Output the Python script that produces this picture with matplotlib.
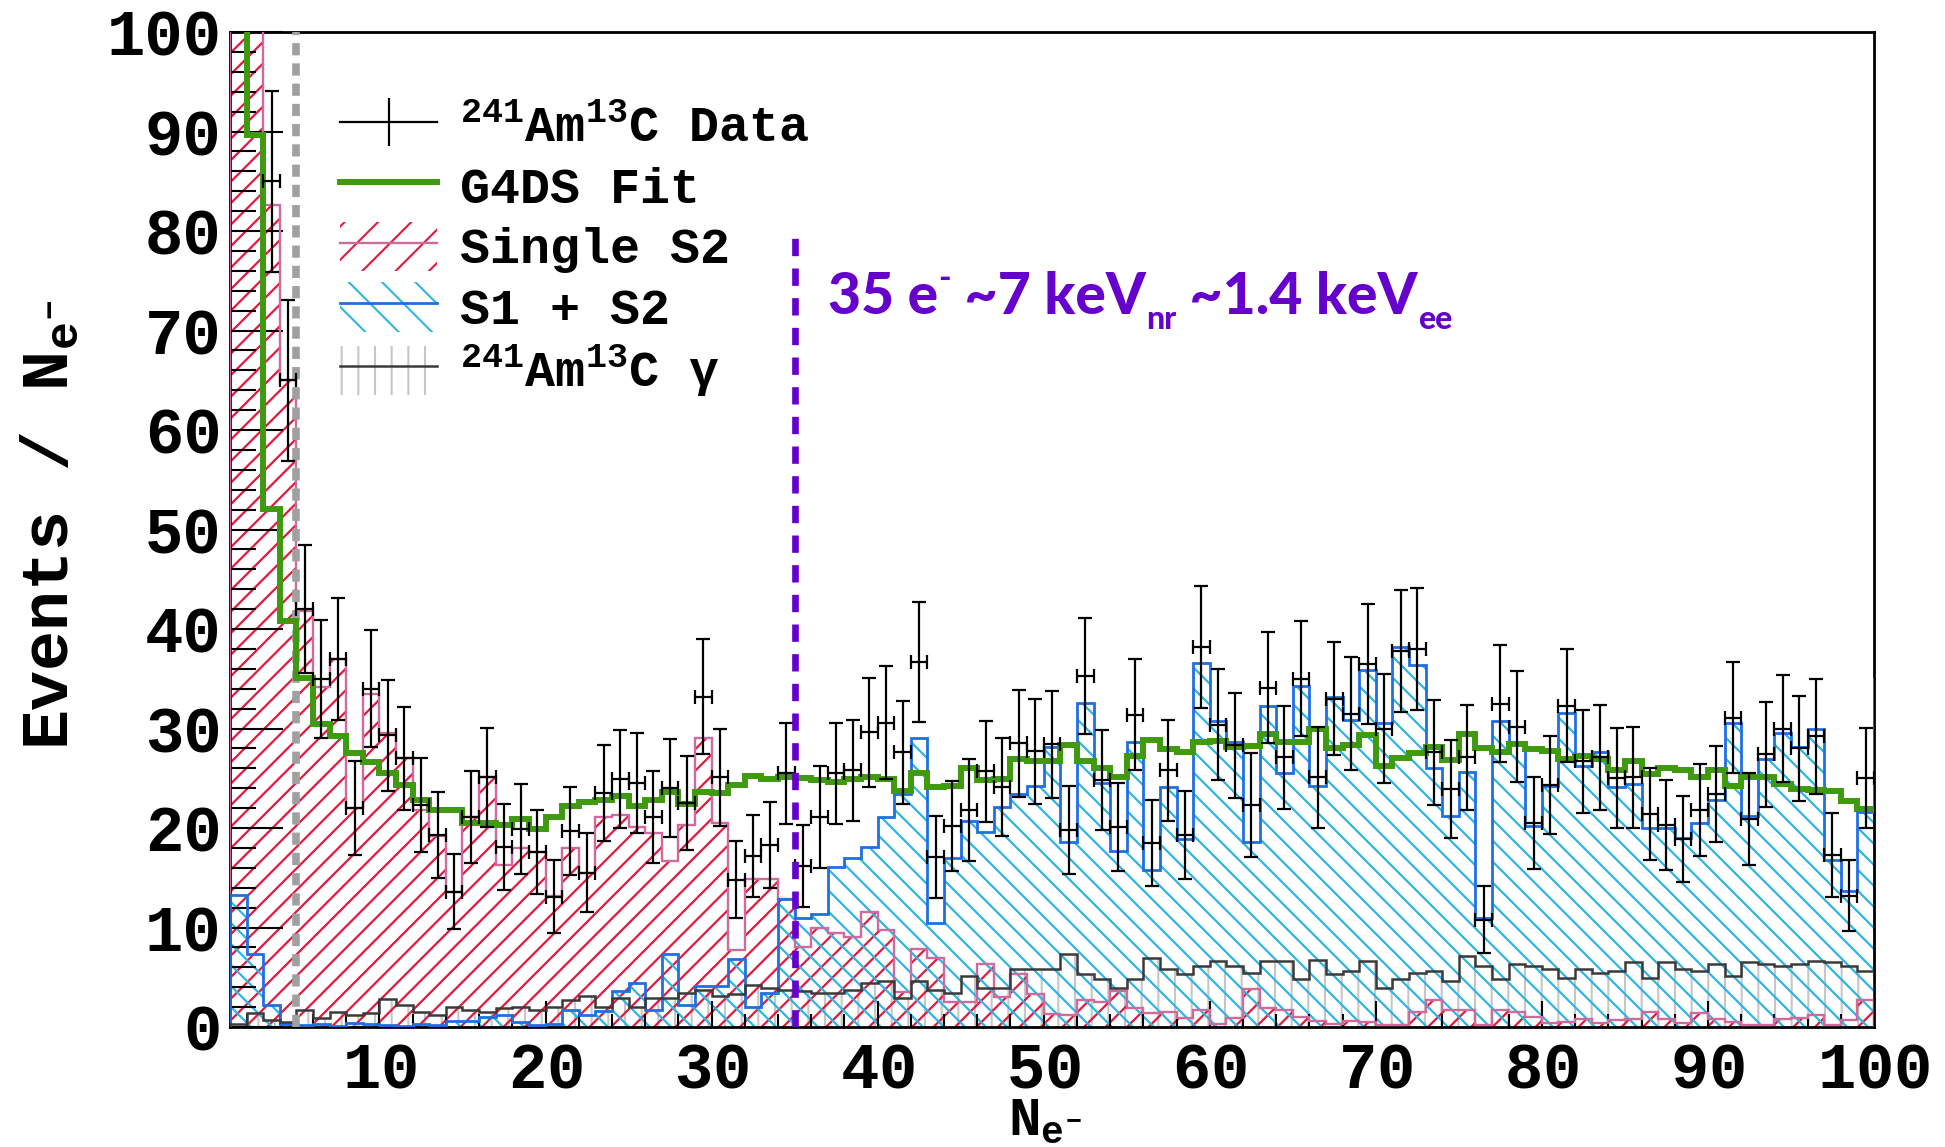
import numpy as np
import matplotlib
matplotlib.use("Agg")
import matplotlib.pyplot as plt
from matplotlib.lines import Line2D
from matplotlib.patches import Patch
from matplotlib.collections import LineCollection
from matplotlib.ticker import MultipleLocator
from matplotlib import transforms

plt.rcParams['mathtext.fontset'] = 'custom'
plt.rcParams['mathtext.rm'] = 'Liberation Mono:bold'
plt.rcParams['mathtext.it'] = 'Liberation Mono:bold'
plt.rcParams['mathtext.bf'] = 'Liberation Mono:bold'
plt.rcParams['hatch.linewidth'] = 1.5

# ---- binning: one bin per extracted electron, N_e- = 1 .. 100 ----
edges = np.arange(1, 101)

# 241Am13C data (events per bin) and their error bars
data = [150, 120, 85, 65, 42, 35, 37, 22, 34, 29.3,
        27, 22.3, 19.3, 13.6, 21.1, 25.1, 18.1, 19.9, 17.6, 13.1,
        19.7, 15.5, 23.5, 24.9, 24.5, 21.1, 24, 22.5, 33.2, 25.1,
        14.8, 17.2, 18.3, 25.5, 16.2, 21.1, 25.5, 25.8, 29.6, 30.6,
        27.6, 36.7, 17.1, 20.2, 21.8, 25.7, 24.1, 28.5, 27.7, 28.4,
        19.8, 35.3, 24.8, 20.1, 31.4, 18.5, 25.8, 19.3, 38.2, 30.4,
        28.3, 22.3, 34.1, 27.1, 35.0, 25.1, 33.0, 31.5, 36.5, 30.0,
        37.8, 38.0, 27.6, 23.9, 27.1, 10.8, 32.5, 30.2, 20.5, 24.3,
        32.3, 26.7, 27.1, 25.0, 25.1, 21.4, 20.3, 18.9, 21.8, 23.4,
        31.1, 20.9, 27.4, 30.0, 28.0, 29.2, 17.3, 13.2, 25.0]
data_err = [12.2, 11.0, 9.1, 8.1, 6.4, 5.95, 6.15, 4.7, 5.85, 5.55,
            5.2, 4.75, 4.35, 3.75, 4.6, 5.0, 4.3, 4.55, 4.2, 3.65,
            4.4, 3.95, 4.85, 4.95, 5.0, 4.65, 4.95, 4.75, 5.8, 4.9,
            3.85, 4.15, 4.3, 5.1, 4.1, 5.1, 5.05, 5.05, 5.45, 5.65,
            5.2, 6.05, 4.1, 4.5, 5.15, 5.05, 4.9, 5.4, 5.25, 5.4,
            4.4, 5.85, 5.05, 4.45, 5.55, 4.3, 5.05, 4.4, 6.15, 5.55,
            5.3, 5.2, 5.55, 5.15, 5.8, 5.1, 5.7, 5.65, 6.05, 5.5,
            6.15, 6.15, 5.3, 4.9, 5.25, 3.35, 5.85, 5.55, 4.6, 4.95,
            5.7, 5.2, 5.25, 5.05, 5.05, 4.6, 4.5, 4.35, 4.65, 4.85,
            5.6, 4.6, 5.25, 5.35, 5.25, 5.75, 4.25, 3.55, 5.05]

# G4DS fit (total)
g4ds_fit = [140, 89.6, 52.1, 40.8, 35.1, 30.5, 29.2, 27.5, 26.6, 25.5,
            24.3, 22.8, 21.8, 21.8, 20.5, 20.5, 20.3, 20.9, 19.9, 21.1,
            22.2, 22.6, 22.8, 23.2, 22.2, 22.8, 23.6, 22.4, 23.6, 23.5,
            24.3, 25.2, 24.9, 25.1, 25.0, 24.8, 24.6, 24.9, 25.1, 24.9,
            23.7, 25.5, 24.1, 24.2, 26.0, 24.8, 24.9, 26.9, 26.7, 26.7,
            28.3, 26.7, 26.0, 25.1, 27.2, 28.8, 27.9, 27.6, 28.6, 28.7,
            28.1, 28.2, 29.4, 28.6, 28.6, 29.9, 28.0, 28.3, 29.3, 26.2,
            27.0, 27.5, 28.1, 26.8, 29.4, 28.0, 27.6, 28.4, 27.9, 27.7,
            26.9, 27.2, 26.9, 25.8, 26.7, 25.4, 26.0, 25.8, 25.1, 25.8,
            24.2, 25.1, 25.1, 24.4, 23.9, 23.8, 23.7, 22.7, 21.9]

# Single S2 events
single_s2 = [160, 115, 82.6, 65, 41.8, 34.2, 37.0, 22.0, 33.5, 29.5,
             27.0, 21.8, 19.2, 13.6, 21.1, 25.1, 16.3, 18.0, 17.6, 13.2,
             18.0, 15.5, 21.1, 21.3, 20.1, 19.5, 16.7, 20.3, 29.0, 20.5,
             7.7, 14.9, 14.9, 12.9, 8.0, 10.0, 9.4, 9.0, 11.6, 9.7,
             3.5, 7.8, 6.9, 2.5, 2.5, 6.3, 3.0, 5.3, 3.3, 1.3,
             1.2, 2.7, 2.5, 3.6, 1.9, 1.4, 1.5, 0.9, 1.7, 0.3,
             0.9, 3.8, 1.9, 1.7, 1.0, 0.6, 0.3, 0.6, 0.5, 0.2,
             0.2, 1.5, 2.7, 1.7, 1.7, 0.2, 1.7, 1.5, 1.0, 0.4,
             0.5, 0.85, 0.4, 0.7, 0.85, 1.5, 0.85, 0.4, 1.4, 0.85,
             0.5, 0.2, 0.2, 0.85, 0.9, 1.2, 0.2, 0.7, 2.7]

# S1 + S2 events (last entry is the overflow bin just past N_e- = 100)
s1_s2 = [13.3, 7.3, 2.2, 0.3, 0.2, 0.3, 0.1, 0.4, 0.3, 0.2,
         0.1, 0.3, 0.2, 0.6, 0.6, 1.0, 1.2, 0.5, 0.2, 0.3,
         1.7, 1.2, 1.6, 3.6, 4.4, 1.7, 7.3, 2.2, 4.1, 4.1,
         6.8, 2.0, 3.4, 12.9, 11.0, 11.4, 16.1, 17.0, 18.1, 21.1,
         23.4, 29.0, 10.5, 17.0, 20.7, 19.6, 22.1, 23.4, 24.2, 28.1,
         18.6, 32.6, 24.5, 17.7, 28.6, 15.8, 24.1, 18.9, 36.6, 30.8,
         28.6, 18.6, 32.3, 25.5, 34.3, 24.2, 33.2, 30.9, 35.9, 30.6,
         38.2, 36.4, 26.0, 21.2, 25.6, 11.0, 30.8, 28.6, 20.2, 24.2,
         31.6, 26.2, 27.6, 24.1, 24.4, 20.0, 20.0, 19.0, 20.5, 22.8,
         30.6, 21.2, 26.9, 29.5, 28.1, 29.9, 16.8, 13.7, 21.6, 35.0]

# 241Am13C gamma background
am_c_gamma = [0.3, 1.4, 0.7, 0.5, 1.7, 0.9, 1.5, 1.2, 1.4, 2.8,
              2.2, 1.5, 1.2, 2.0, 1.7, 1.5, 1.9, 2.0, 1.7, 2.0,
              2.7, 3.1, 2.0, 2.9, 2.0, 2.9, 2.9, 3.4, 3.7, 3.1,
              3.3, 4.2, 3.9, 3.7, 3.6, 3.4, 3.4, 3.7, 4.4, 4.6,
              2.9, 4.6, 3.7, 3.4, 5.1, 3.9, 3.9, 5.8, 5.8, 5.8,
              7.3, 5.3, 4.8, 3.9, 4.8, 6.9, 5.8, 5.3, 6.1, 6.6,
              6.1, 5.4, 6.6, 6.6, 4.8, 6.7, 5.3, 5.6, 6.6, 3.9,
              4.8, 5.4, 5.6, 4.6, 7.1, 6.1, 4.8, 6.3, 6.1, 5.8,
              4.9, 5.8, 5.4, 5.6, 6.5, 4.9, 6.5, 5.8, 5.6, 6.3,
              5.1, 6.5, 6.3, 6.1, 6.3, 6.6, 6.5, 6.1, 5.6]

low_cut_ne = 5          # lower analysis cut
threshold_ne = 35       # 35 e- ~ 7 keVnr ~ 1.4 keVee
threshold_line_top = 80

x_ticks = [10, 20, 30, 40, 50, 60, 70, 80, 90, 100]
y_ticks = [0, 10, 20, 30, 40, 50, 60, 70, 80, 90, 100]

# ---- colours ----
c_red_hatch = '#e2183f'
c_pink = '#cf6a9c'
c_cyan_hatch = '#2fb4e6'
c_blue = '#1f6fe3'
c_gamma = '#3a3a3a'
c_gamma_hatch = '#c6c6c6'
c_green = '#3f9a10'
c_purple = '#6600cc'
c_cut = '#a0a0a0'

mono = 'Liberation Mono'

fig = plt.figure(figsize=(19.45, 11.47), dpi=100)
ax = fig.add_axes([0.11825, 0.10462, 0.84524, 0.86748])
ax.set_xlim(1, 100)
ax.set_ylim(0, 100)

edges_s1s2 = np.arange(1, 102)
centers = 0.5 * (edges[:-1] + edges[1:])
half_w = 0.5 * np.diff(edges)


def hatch_region(clip_patch, spacing_px, rising, color, lw, zorder):
    """Fill a histogram region with 45-degree lines (spacing in pixels)."""
    x0, y0, x1, y1 = ax.bbox.extents
    h = y1 - y0
    segs = []
    for c in np.arange(x0 - h - spacing_px, x1 + spacing_px, spacing_px):
        if rising:
            segs.append([(c, y0), (c + h, y1)])
        else:
            segs.append([(c, y1), (c + h, y0)])
    lc = LineCollection(segs, colors=color, linewidths=lw,
                        transform=transforms.IdentityTransform(), zorder=zorder)
    ax.add_collection(lc, autolim=False)
    lc.set_clip_path(clip_patch)
    return lc


# gamma: vertical hatch
ax.stairs(am_c_gamma, edges, baseline=0, fill=True, hatch='|', facecolor='none',
          edgecolor=c_gamma_hatch, linewidth=0, zorder=1)
# single S2 and S1+S2: diagonal hatching clipped to the histogram shapes
s2_shape = ax.stairs(single_s2, edges, baseline=0, fill=True, facecolor='none',
                     edgecolor='none', linewidth=0, zorder=0.5)
s1s2_shape = ax.stairs(s1_s2, edges_s1s2, baseline=0, fill=True, facecolor='none',
                       edgecolor='none', linewidth=0, zorder=0.5)
hatch_region(s2_shape, 21.5, True, c_red_hatch, 1.6, 1.2)
hatch_region(s1s2_shape, 21.0, False, c_cyan_hatch, 1.6, 1.4)

# outlines
ax.stairs(single_s2, edges, baseline=0, fill=False, color=c_pink, linewidth=1.7, zorder=3)
ax.stairs(s1_s2, edges_s1s2, baseline=0, fill=False, color=c_blue, linewidth=2.0, zorder=3.1)
ax.stairs(am_c_gamma, edges, baseline=0, fill=False, color=c_gamma, linewidth=1.8, zorder=3.2)

# cut lines
ax.axvline(low_cut_ne, color=c_cut, linewidth=5.5, linestyle=(0, (1.6, 1.05)), zorder=3.5)

# fit and data
ax.stairs(g4ds_fit, edges, baseline=None, fill=False, color=c_green, linewidth=4.3, zorder=5)
ax.errorbar(centers, data, yerr=data_err, xerr=half_w, fmt='none', ecolor='black',
            elinewidth=1.6, capsize=5, capthick=1.6, zorder=6)

ax.vlines(threshold_ne, 0, threshold_line_top, colors=c_purple, linewidth=4.8,
          linestyles=[(0, (2.6, 1.85))], zorder=7)

# ---- axes ----
ax.set_xticks(x_ticks)
ax.set_xticklabels([f'${v}$' for v in x_ticks])   # tight (mathtext) label boxes
ax.set_yticks(y_ticks)
ax.xaxis.set_minor_locator(MultipleLocator(2))
ax.yaxis.set_minor_locator(MultipleLocator(2))
ax.tick_params(axis='both', which='both', direction='in', top=False, right=False,
               width=1.5, colors='black')
ax.tick_params(axis='y', which='major', length=38, pad=6)
ax.tick_params(axis='y', which='minor', length=19)
ax.tick_params(axis='x', which='major', length=19, pad=9.5)
ax.tick_params(axis='x', which='minor', length=9.5)
for lab in ax.get_xticklabels() + ax.get_yticklabels():
    lab.set_fontfamily(mono)
    lab.set_fontweight('bold')
    lab.set_fontsize(46)
for s in ax.spines.values():
    s.set_linewidth(2.0)

ax.set_xlabel(r'N$_{e^{-}}$', fontfamily=mono, fontweight='bold', fontsize=39)
ax.set_ylabel(r'Events / N$_{e^{-}}$', fontfamily=mono, fontweight='bold', fontsize=48)
ax.xaxis.set_label_coords(0.496, -0.069)
ax.yaxis.set_label_coords(-0.0905, 0.505)

# ---- legend ----
h_data = (Line2D([], [], color='black', linewidth=1.6),
          Line2D([], [], color='black', marker='|', markersize=34, markeredgewidth=1.6,
                 linestyle='none'))
h_fit = Line2D([], [], color=c_green, linewidth=4.3)
h_s2 = (Patch(facecolor='none', edgecolor=c_red_hatch, hatch='/', linewidth=0),
        Line2D([], [], color=c_pink, linewidth=1.7))
h_s1s2 = (Patch(facecolor='none', edgecolor=c_cyan_hatch, hatch='\\', linewidth=0),
          Line2D([], [], color=c_blue, linewidth=2.0))
h_gamma = (Patch(facecolor='none', edgecolor=c_gamma_hatch, hatch='|', linewidth=0),
           Line2D([], [], color=c_gamma, linewidth=1.8))
labels = [r'$^{241}$Am$^{13}$C Data', 'G4DS Fit', 'Single S2', 'S1 + S2',
          r'$^{241}$Am$^{13}$C $\gamma$']
leg = ax.legend([h_data, h_fit, h_s2, h_s1s2, h_gamma], labels,
                loc='upper left', bbox_to_anchor=(0.067, 0.931), frameon=False,
                prop={'family': mono, 'weight': 'bold', 'size': 36},
                handlelength=1.94, handleheight=1.15, handletextpad=0.46,
                labelspacing=0.175, borderpad=0, borderaxespad=0)
leg.set_zorder(8)

# ---- threshold annotation ----
fig.canvas.draw()
renderer = fig.canvas.get_renderer()
pieces = [('35 e', 41, 0), ('-', 24, 26), (' ~7 keV', 41, 0), ('nr', 23, -15),
          (' ~1.4 keV', 41, 0), ('ee', 23, -15)]
x0, y0 = 0.364, 0.7166
dx = 0.0
for s, size, rise in pieces:
    tr = transforms.offset_copy(ax.transAxes, fig=fig, x=dx, y=rise, units='dots')
    t = ax.text(x0, y0, s, transform=tr, fontsize=size, color=c_purple,
                fontfamily='Lato', fontweight='black', ha='left', va='baseline', zorder=9)
    dx += t.get_window_extent(renderer).width

fig.savefig('out.png', dpi=100, facecolor='white')
